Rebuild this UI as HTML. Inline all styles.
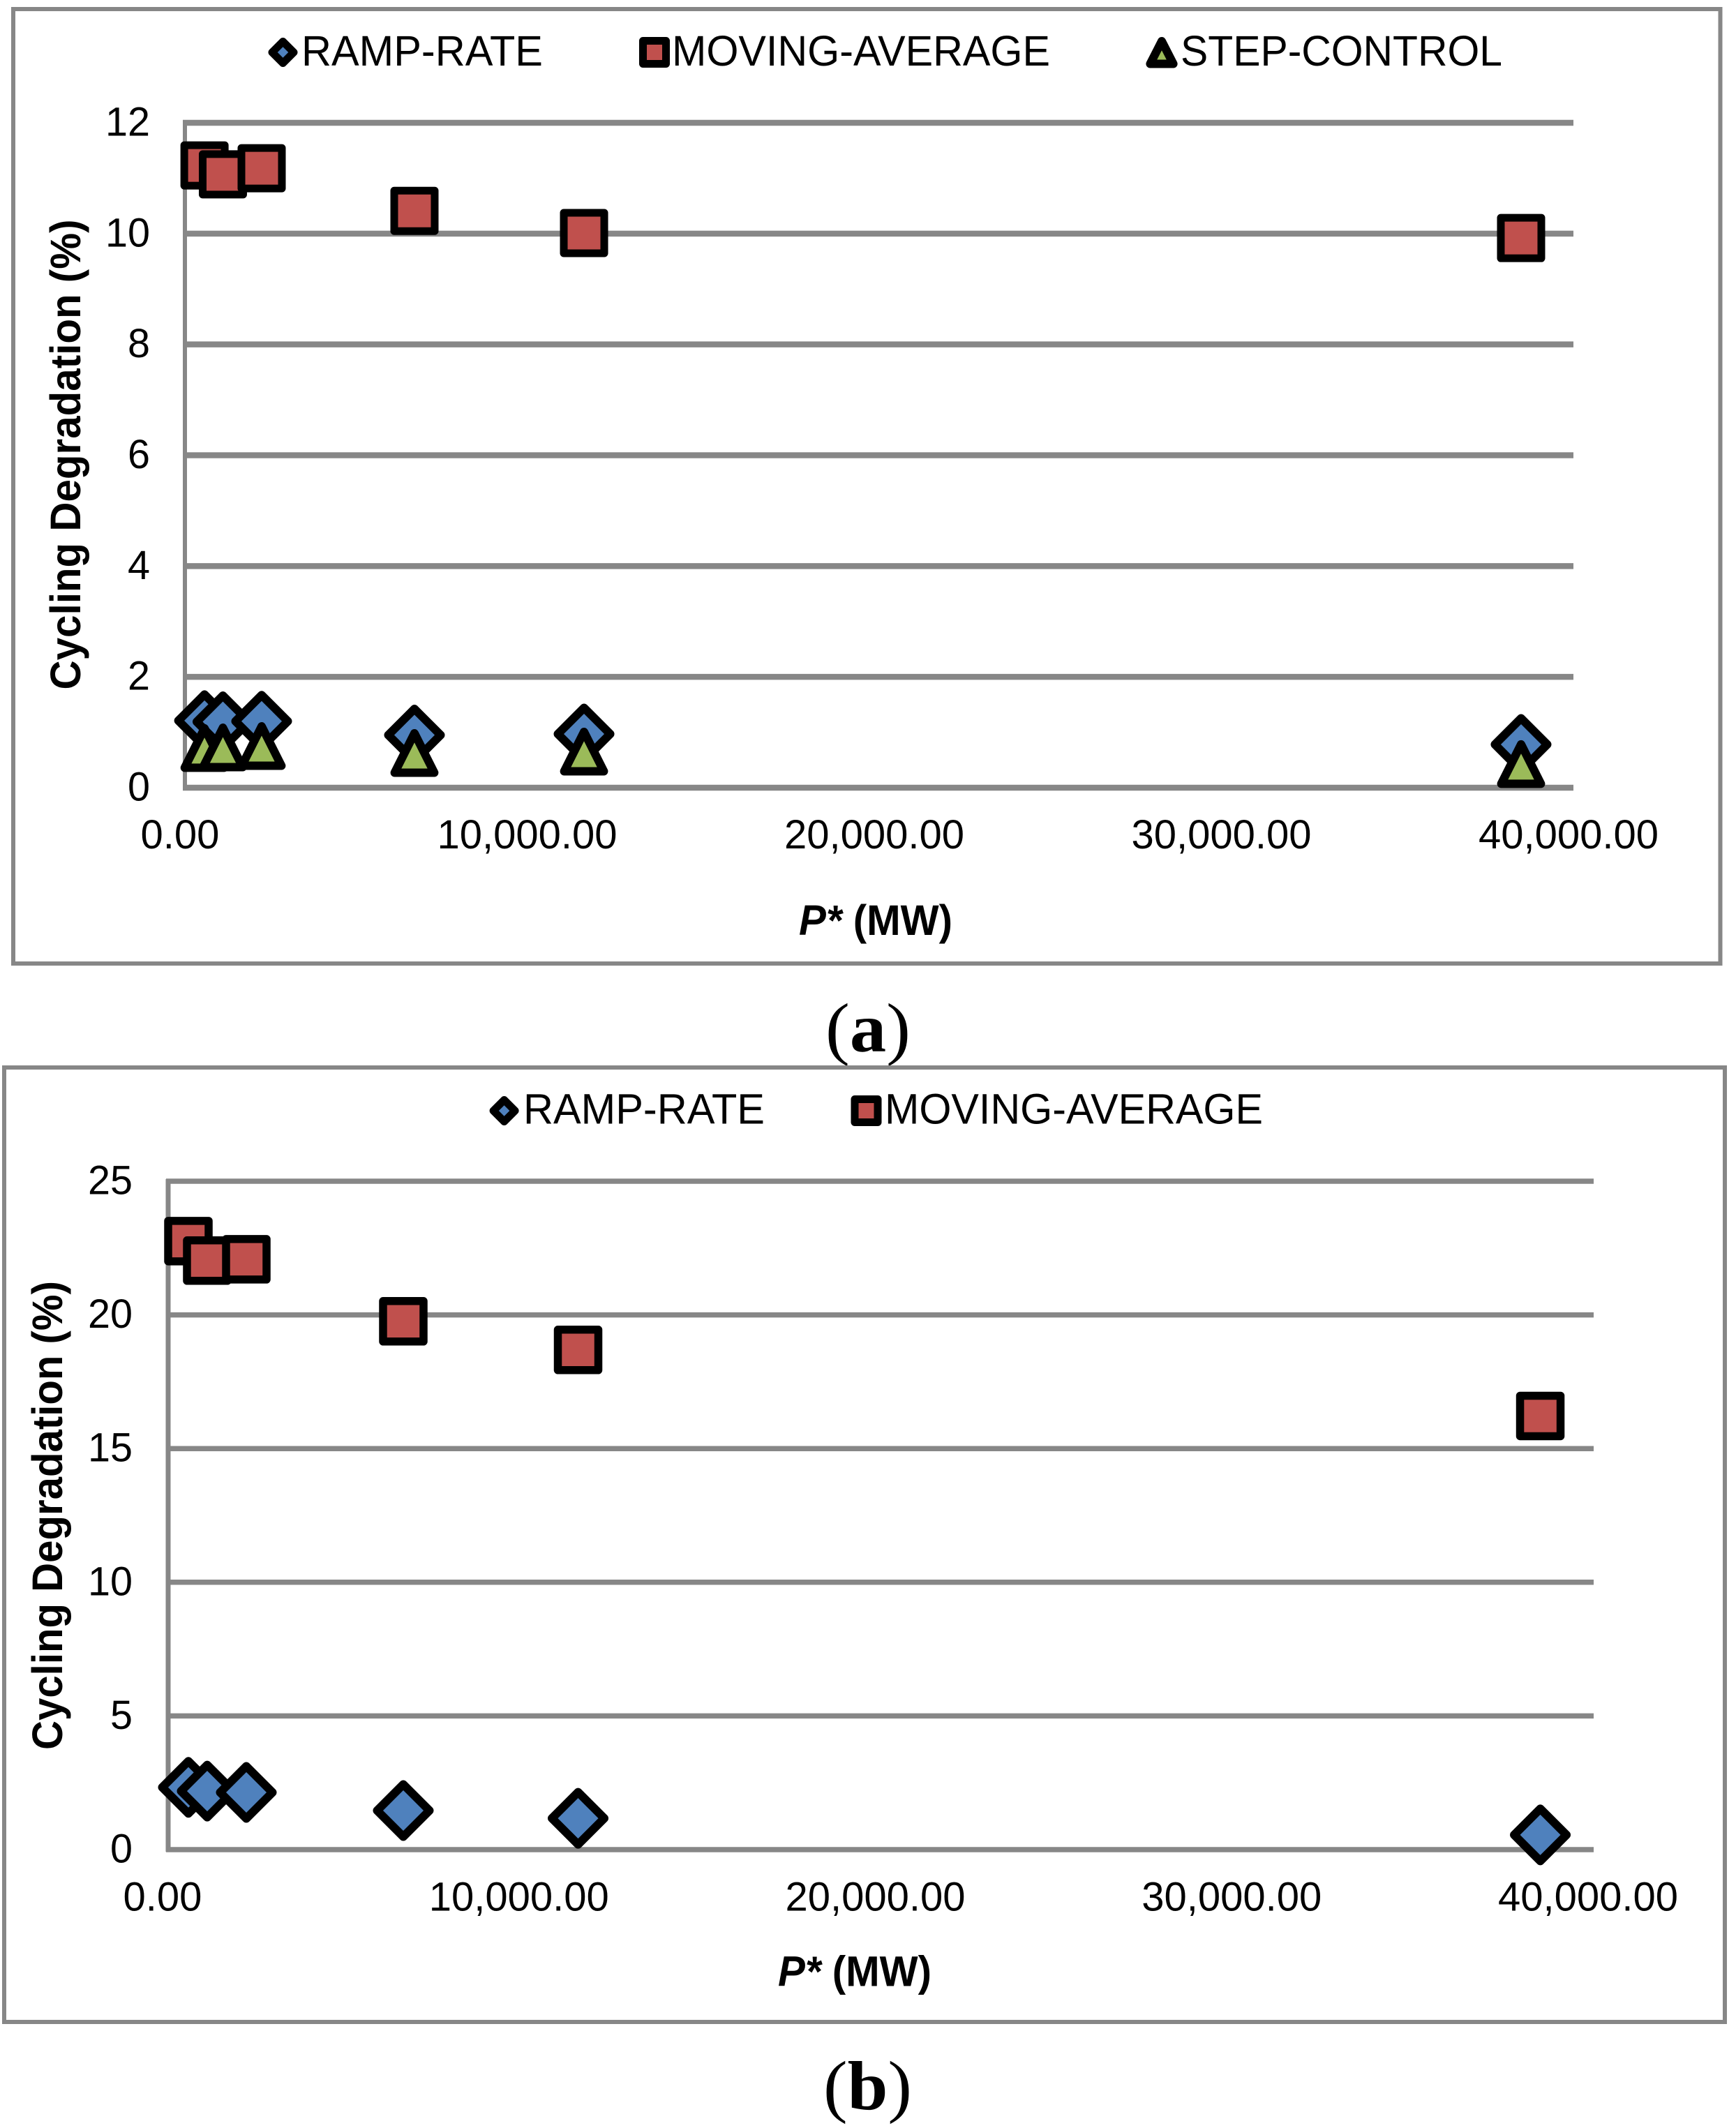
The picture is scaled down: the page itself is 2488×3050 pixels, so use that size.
<!DOCTYPE html>
<html lang="en">
<head>
<meta charset="utf-8">
<title>Cycling Degradation vs P*</title>
<style>
html,body{margin:0;padding:0;background:#fff;width:2488px;height:3050px;overflow:hidden}
svg{display:block}
text{font-family:"Liberation Sans",sans-serif;fill:#000}
.legend{font-size:61px}
.tick{font-size:58px}
.axis-title{font-size:61px;font-weight:bold}
.sub{font-family:"Liberation Serif",serif;font-weight:bold;font-size:100px}
.sub .paren{font-weight:normal}
</style>
</head>
<body>
<svg id="figure" xmlns="http://www.w3.org/2000/svg" width="2488" height="3050" viewBox="0 0 2488 3050">
  <rect x="0" y="0" width="2488" height="3050" fill="#fff"/>

  <g id="chart-a">
    <rect x="19" y="13" width="2446.5" height="1368" fill="#fff" stroke="#878787" stroke-width="6"/>
    <g id="a-grid"></g>
    <g id="a-ticks"></g>
    <g id="a-marks"></g>
    <g id="a-legend"></g>
    <text class="legend" x="432" y="94" textLength="346" lengthAdjust="spacingAndGlyphs">RAMP-RATE</text>
    <text class="legend" x="963" y="94" textLength="542" lengthAdjust="spacingAndGlyphs">MOVING-AVERAGE</text>
    <text class="legend" x="1692" y="94" textLength="461" lengthAdjust="spacingAndGlyphs">STEP-CONTROL</text>
    <text class="axis-title" transform="translate(115,988.5) rotate(-90)" x="0" y="0" textLength="674" lengthAdjust="spacingAndGlyphs">Cycling Degradation (%)</text>
    <text class="axis-title" x="1145" y="1340" textLength="220" lengthAdjust="spacingAndGlyphs"><tspan font-style="italic">P*</tspan> (MW)</text>
  </g>
  <text class="sub" x="1183" y="1507" textLength="122" lengthAdjust="spacingAndGlyphs"><tspan class="paren">(</tspan>a<tspan class="paren">)</tspan></text>

  <g id="chart-b">
    <rect x="6" y="1530" width="2466" height="1368" fill="#fff" stroke="#878787" stroke-width="6"/>
    <g id="b-grid"></g>
    <g id="b-ticks"></g>
    <g id="b-marks"></g>
    <g id="b-legend"></g>
    <text class="legend" x="750" y="1610.5" textLength="346" lengthAdjust="spacingAndGlyphs">RAMP-RATE</text>
    <text class="legend" x="1268" y="1610.5" textLength="542" lengthAdjust="spacingAndGlyphs">MOVING-AVERAGE</text>
    <text class="axis-title" transform="translate(89,2508) rotate(-90)" x="0" y="0" textLength="672" lengthAdjust="spacingAndGlyphs">Cycling Degradation (%)</text>
    <text class="axis-title" x="1115" y="2846.5" textLength="220" lengthAdjust="spacingAndGlyphs"><tspan font-style="italic">P*</tspan> (MW)</text>
  </g>
  <text class="sub" x="1180" y="3023" textLength="127" lengthAdjust="spacingAndGlyphs"><tspan class="paren">(</tspan>b<tspan class="paren">)</tspan></text>
</svg>

<script>
var xTickValues = [0, 10000, 20000, 30000, 40000];
var xTickLabels = ["0.00", "10,000.00", "20,000.00", "30,000.00", "40,000.00"];

var yTicksA = [0, 2, 4, 6, 8, 10, 12];
var powerA = [565, 1095, 2211, 6613, 11498, 38492];
var rampRateA = [1.21, 1.19, 1.20, 0.95, 0.97, 0.78];
var movingAverageA = [11.23, 11.07, 11.18, 10.41, 10.01, 9.92];
var stepControlA = [0.72, 0.73, 0.755, 0.63, 0.655, 0.43];

var yTicksB = [0, 5, 10, 15, 20, 25];
var powerB = [568, 1096, 2193, 6598, 11503, 38503];
var rampRateB = [2.33, 2.19, 2.14, 1.46, 1.17, 0.55];
var movingAverageB = [22.76, 22.03, 22.08, 19.76, 18.69, 16.22];

var NS = "http://www.w3.org/2000/svg";
var BLUE = "#4F81BD", RED = "#C0504D", GREEN = "#9BBB59", GRID = "#878787";

function xA(v) { return 265 + v / 40000 * 1990; }
function yA(v) { return 1129 - v / 12 * 953; }
function xB(v) { return 241 + v / 40000 * 2043; }
function yB(v) { return 2651 - v / 25 * 958; }

function svgEl(tag) { return document.createElementNS(NS, tag); }

function lineEl(x1, y1, x2, y2, w) {
  var l = svgEl("line");
  l.setAttribute("x1", x1);
  l.setAttribute("y1", y1);
  l.setAttribute("x2", x2);
  l.setAttribute("y2", y2);
  l.setAttribute("stroke", GRID);
  l.setAttribute("stroke-width", w);
  return l;
}

function polyEl(points, fill, sw) {
  var p = svgEl("polygon");
  p.setAttribute("points", points.map(function (q) { return q[0] + "," + q[1]; }).join(" "));
  p.setAttribute("fill", fill);
  p.setAttribute("stroke", "#000");
  p.setAttribute("stroke-width", sw);
  p.setAttribute("stroke-linejoin", "round");
  return p;
}

function diamond(cx, cy, h, sw) {
  return polyEl([[cx, cy - h], [cx + h, cy], [cx, cy + h], [cx - h, cy]], BLUE, sw);
}
function square(cx, cy, h, sw) {
  return polyEl([[cx - h, cy - h], [cx + h, cy - h], [cx + h, cy + h], [cx - h, cy + h]], RED, sw);
}
function triangle(cx, cy, top, bottom, hw, sw) {
  return polyEl([[cx, cy - top], [cx + hw, cy + bottom], [cx - hw, cy + bottom]], GREEN, sw);
}

function drawAxes(gridId, tickId, xFn, yFn, yTicks, gridW, axisW, labelOffset, xBaseline, yRight) {
  var grid = document.getElementById(gridId);
  var ticks = document.getElementById(tickId);
  var top = yFn(yTicks[yTicks.length - 1]);
  var bottom = yFn(0);
  var axis = lineEl(xFn(0), top - 3, xFn(0), bottom + 3, axisW);
  
  
  grid.appendChild(axis);
  yTicks.forEach(function (t) {
    var g = lineEl(xFn(0) - 3, yFn(t), xFn(40000), yFn(t), gridW);
    
    
    grid.appendChild(g);
    var tx = svgEl("text");
    var s = String(t);
    tx.setAttribute("class", "tick");
    tx.setAttribute("x", yRight);
    tx.setAttribute("y", yFn(t) + 18.5);
    tx.setAttribute("text-anchor", "end");
    tx.setAttribute("textLength", s.length * 32);
    tx.setAttribute("lengthAdjust", "spacingAndGlyphs");
    tx.textContent = s;
    
    
    ticks.appendChild(tx);
  });
  xTickValues.forEach(function (v, i) {
    var tx = svgEl("text");
    tx.setAttribute("class", "tick");
    tx.setAttribute("x", xFn(v) + labelOffset);
    tx.setAttribute("y", xBaseline);
    tx.setAttribute("text-anchor", "middle");
    tx.textContent = xTickLabels[i];
    
    
    ticks.appendChild(tx);
  });
}

/* chart (a) */
drawAxes("a-grid", "a-ticks", xA, yA, yTicksA, 8.5, 6, -7, 1216, 215);
var marksA = document.getElementById("a-marks");
rampRateA.forEach(function (v, i) {
  var m = diamond(xA(powerA[i]), yA(v), 37.5, 12);
  
  
  marksA.appendChild(m);
});
movingAverageA.forEach(function (v, i) {
  var m = square(xA(powerA[i]), yA(v), 29, 11);
  
  
  marksA.appendChild(m);
});
stepControlA.forEach(function (v, i) {
  var m = triangle(xA(powerA[i]), yA(v), 28, 28.5, 28.4, 12);
  
  
  marksA.appendChild(m);
});

/* chart (b) */
drawAxes("b-grid", "b-ticks", xB, yB, yTicksB, 7.5, 7, -8, 2738.5, 190);
var marksB = document.getElementById("b-marks");
rampRateB.forEach(function (v, i) {
  var m = diamond(xB(powerB[i]), yB(v), 37.5, 12);
  
  
  marksB.appendChild(m);
});
movingAverageB.forEach(function (v, i) {
  var m = square(xB(powerB[i]), yB(v), 29, 11.5);
  
  
  marksB.appendChild(m);
});

/* legends */
var legendA = document.getElementById("a-legend");
var legendB = document.getElementById("b-legend");

var lgA1 = diamond(405.5, 75, 15.5, 11);


legendA.appendChild(lgA1);

var lgA2 = square(938, 75, 16.5, 11);


legendA.appendChild(lgA2);

var lgA3 = triangle(1665, 75, 16, 16.5, 16.6, 12);


legendA.appendChild(lgA3);

var lgB1 = diamond(722.6, 1592, 15.5, 11);


legendB.appendChild(lgB1);

var lgB2 = square(1241.5, 1592, 16.5, 11);


legendB.appendChild(lgB2);
</script>
</body>
</html>
